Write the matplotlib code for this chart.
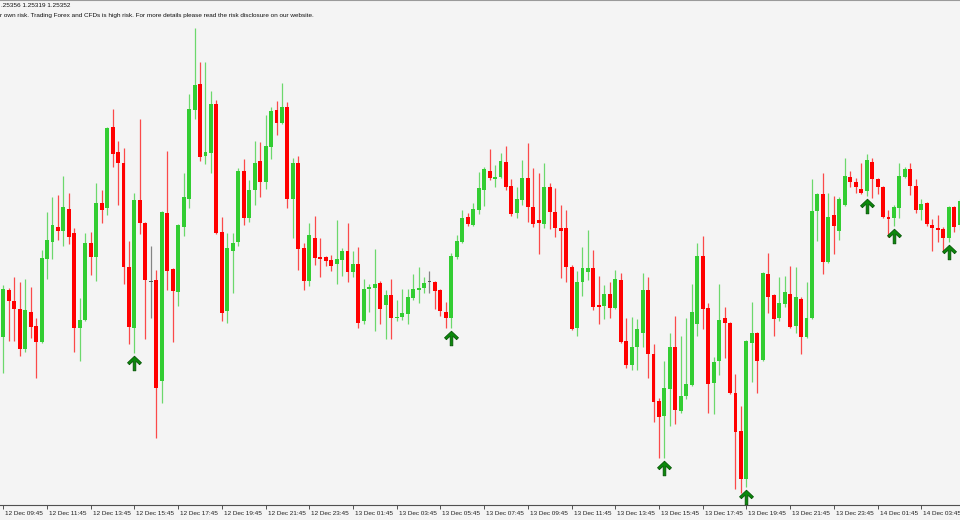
import numpy as np
import matplotlib
matplotlib.use("Agg")
import matplotlib.pyplot as plt
from matplotlib.path import Path
from matplotlib.transforms import ScaledTranslation

# =========================
# DATA (15 min candles, level units)
# =========================
OPEN = [183, 230, 219, 211, 171, 208, 194, 178, 261, 278,
        293, 289, 311, 287, 192, 200, 277, 263, 317, 312,
        393, 368, 357, 253, 192, 320, 297, 238, 240, 139,
        307, 251, 228, 293, 321, 410, 436, 364, 367, 416,
        288, 209, 269, 278, 349, 302, 330, 359, 338, 373,
        410, 397, 413, 321, 357, 272, 239, 282, 263, 263,
        260, 256, 260, 269, 248, 256, 199, 231, 232, 237,
        215, 225, 202, 203, 206, 222, 230.5, 232, 238, 238,
        230, 208, 202, 263, 278, 303, 295, 310, 330, 349,
        341, 343, 358, 334, 307, 320, 342, 313, 300, 296,
        333, 308, 292, 292, 253, 192, 238, 248, 252, 215,
        214, 226, 212, 240, 179, 155, 173, 187, 230, 166,
        119, 104, 131, 173, 109, 124, 135, 196, 264, 212,
        137, 159, 202, 197, 127, 89, 41, 177, 187, 160,
        246, 225, 202, 216, 226, 194, 221, 183, 202, 309,
        326, 258, 305, 289, 315, 343, 338, 331, 329, 358,
        341, 333, 303, 302, 312, 343, 351, 334, 310, 317,
        295, 292, 291, 282, 313, 295]

HIGH = [235, 232, 243, 238, 241, 233, 202, 270, 308, 323,
        325, 344, 327, 292, 222, 287, 288, 337, 330, 393,
        411, 379, 372, 279, 327, 401, 298, 274, 250, 309,
        369, 252, 296, 347, 426, 492, 458, 458, 429, 420,
        303, 287, 287, 352, 361, 340, 379, 378, 405, 413,
        419, 437, 418, 362, 364, 277, 297, 304, 282, 264,
        265, 300, 272, 297, 269, 273, 241, 236, 271, 239,
        230, 241, 220, 231, 231, 246, 253, 243, 249, 239,
        231, 218, 267, 285, 310, 307, 317, 348, 353, 371,
        355, 367, 374, 341, 333, 360, 377, 352, 347, 357,
        337, 332, 315, 310, 255, 249, 273, 290, 270, 244,
        235, 238, 250, 247, 202, 203, 201, 247, 243, 176,
        122, 159, 187, 204, 184, 202, 236, 277, 284, 217,
        163, 236, 213, 198, 146, 114, 180, 218, 188, 248,
        267, 226, 243, 244, 254, 253, 223, 238, 341, 327,
        347, 327, 324, 323, 362, 349, 342, 357, 366, 362,
        342, 334, 310, 315, 357, 353, 357, 341, 321, 318,
        301, 305, 293, 314, 314, 321]

LOW = [147, 179, 179, 164, 168, 182, 142, 177, 241, 261,
       280, 274, 276, 168, 159, 199, 245, 239, 297, 305,
       353, 315, 236, 176, 167, 286, 181, 202, 82, 117,
       230, 178, 214, 284, 312, 401, 359, 356, 347, 286,
       199, 197, 227, 274, 295, 298, 315, 323, 331, 361,
       385, 396, 312, 282, 250, 230, 234, 255, 243, 254,
       249, 236, 244, 238, 243, 192, 196, 208, 189, 196,
       181, 181, 199, 200, 196, 220, 217, 227, 227, 211,
       204, 192, 192, 261, 277, 294, 294, 306, 314, 340,
       333, 342, 330, 304, 302, 315, 298, 293, 266, 292,
       291, 283, 242, 238, 190, 184, 224, 240, 210, 196,
       201, 202, 211, 177, 152, 150, 150, 173, 142, 98,
       62, 62, 94, 96, 107, 121, 134, 184, 191, 107,
       106, 145, 162, 126, 31, 27, 33, 138, 127, 159,
       207, 184, 199, 213, 192, 187, 166, 182, 201, 279,
       246, 257, 266, 280, 314, 333, 327, 326, 324, 322,
       326, 302, 283, 294, 302, 342, 325, 307, 300, 294,
       269, 278, 269, 278, 288, 290]

CLOSE = [231, 219, 211, 171, 210, 193, 178, 262, 280, 295,
         289, 313, 283, 192, 200, 277, 263, 317, 310, 392,
         366, 357, 253, 193, 320, 297, 240, 238, 132, 308,
         249, 229, 295, 323, 411, 435, 363, 368, 416, 287,
         207, 272, 277, 349, 302, 330, 357, 338, 374, 409,
         397, 413, 321, 357, 271, 239, 285, 262, 261, 259,
         254, 261, 269, 248, 256, 197, 231, 233, 236, 211,
         225, 202, 203, 207, 223, 231, 232, 237, 238, 229,
         209, 202, 264, 279, 302, 296, 311, 332, 351, 342,
         343, 359, 333, 306, 321, 342, 313, 296, 297, 333,
         308, 292, 289, 253, 191, 238, 252, 252, 213, 213,
         226, 212, 241, 178, 155, 173, 191, 230, 166, 118,
         103, 132, 173, 110, 124, 136, 208, 264, 211, 136,
         158, 200, 197, 127, 88, 41, 179, 187, 159, 247,
         223, 201, 217, 228, 193, 223, 183, 202, 309, 326,
         258, 303, 294, 321, 344, 338, 333, 327, 360, 341,
         333, 303, 301, 313, 344, 351, 334, 310, 316, 296,
         292, 290, 282, 313, 293, 319]

# candles with a buy-arrow signal under them
SIGNALS = [24, 82, 121, 136, 158, 163, 173]

TICK_IDX = list(range(0, 176, 8))
TICK_LABELS = ["12 Dec 09:45", "12 Dec 11:45", "12 Dec 13:45", "12 Dec 15:45",
               "12 Dec 17:45", "12 Dec 19:45", "12 Dec 21:45", "12 Dec 23:45",
               "13 Dec 01:45", "13 Dec 03:45", "13 Dec 05:45", "13 Dec 07:45",
               "13 Dec 09:45", "13 Dec 11:45", "13 Dec 13:45", "13 Dec 15:45",
               "13 Dec 17:45", "13 Dec 19:45", "13 Dec 21:45", "13 Dec 23:45",
               "14 Dec 01:45", "14 Dec 03:45"]

HEADER_1 = ".25356 1.25319 1.25352"
HEADER_2 = ("r own risk. Trading Forex and CFDs is high risk. For more details "
            "please read the risk disclosure on our website.")

# =========================
# STYLE
# =========================
BG = "#f4f4f4"
UP = "#32cd32"
DOWN = "#ff0000"
DOJI = "#555555"
plt.rcParams["font.family"] = ["Liberation Sans", "DejaVu Sans"]

o = np.array(OPEN, float)
h = np.array(HIGH, float)
l = np.array(LOW, float)
c = np.array(CLOSE, float)
x = np.arange(len(o))

up = c > o
down = c < o
colors = np.where(up, UP, np.where(down, DOWN, DOJI))

fig = plt.figure(figsize=(9.6, 5.2), dpi=100, facecolor=BG)
ax = fig.add_axes([0, 15 / 520, 1, 505 / 520], facecolor=BG)

# wicks
ax.vlines(x, l, h, colors=colors, linewidth=0.9, alpha=0.7, zorder=2)

# bodies
body = c - o
body = np.where(np.abs(body) < 1, np.where(body < 0, -1, 1), body)
ax.bar(x, body, bottom=o, width=0.72, color=colors, linewidth=0, zorder=3)

# buy arrows
arrow = Path([(0, 1), (0.95, 0.1), (0.7, -0.16), (0.18, 0.33), (0.18, -1),
              (-0.18, -1), (-0.18, 0.33), (-0.7, -0.16), (-0.95, 0.1), (0, 1)],
             [Path.MOVETO] + [Path.LINETO] * 8 + [Path.CLOSEPOLY])
sig = np.array(SIGNALS)
ax.plot(sig, l[sig] - 10, linestyle="none", marker=arrow, markersize=10.5,
        markerfacecolor="#0b8a0b", markeredgecolor="#035403",
        markeredgewidth=0.6, zorder=4)

ax.set_xlim(-3.3 / 5.464, (960 - 3.3) / 5.464)
ax.set_ylim(15, 520)

for side in ["left", "right"]:
    ax.spines[side].set_visible(False)
ax.spines["bottom"].set_color("#505050")
ax.spines["bottom"].set_linewidth(0.8)
ax.spines["top"].set_color("#9a9a9a")
ax.spines["top"].set_linewidth(0.8)

ax.set_yticks([])
ax.set_xticks(TICK_IDX)
ax.set_xticklabels(TICK_LABELS, fontsize=4.6, color="#202020")
ax.tick_params(axis="x", direction="out", length=3, width=0.7,
               color="#505050", pad=1.5)
shift = ScaledTranslation(2 / 100, 0, fig.dpi_scale_trans)
for lbl in ax.get_xticklabels():
    lbl.set_horizontalalignment("left")
    lbl.set_transform(lbl.get_transform() + shift)

# header text, clipped at the left edge like the terminal window
fig.text(1 / 960, 1 - 5.3 / 520, HEADER_1, fontsize=4.6, va="center",
         color="#101010")
fig.text(0, 1 - 16 / 520, HEADER_2, fontsize=4.6, va="center",
         color="#101010")

fig.savefig("out.png", dpi=100, facecolor=BG)
